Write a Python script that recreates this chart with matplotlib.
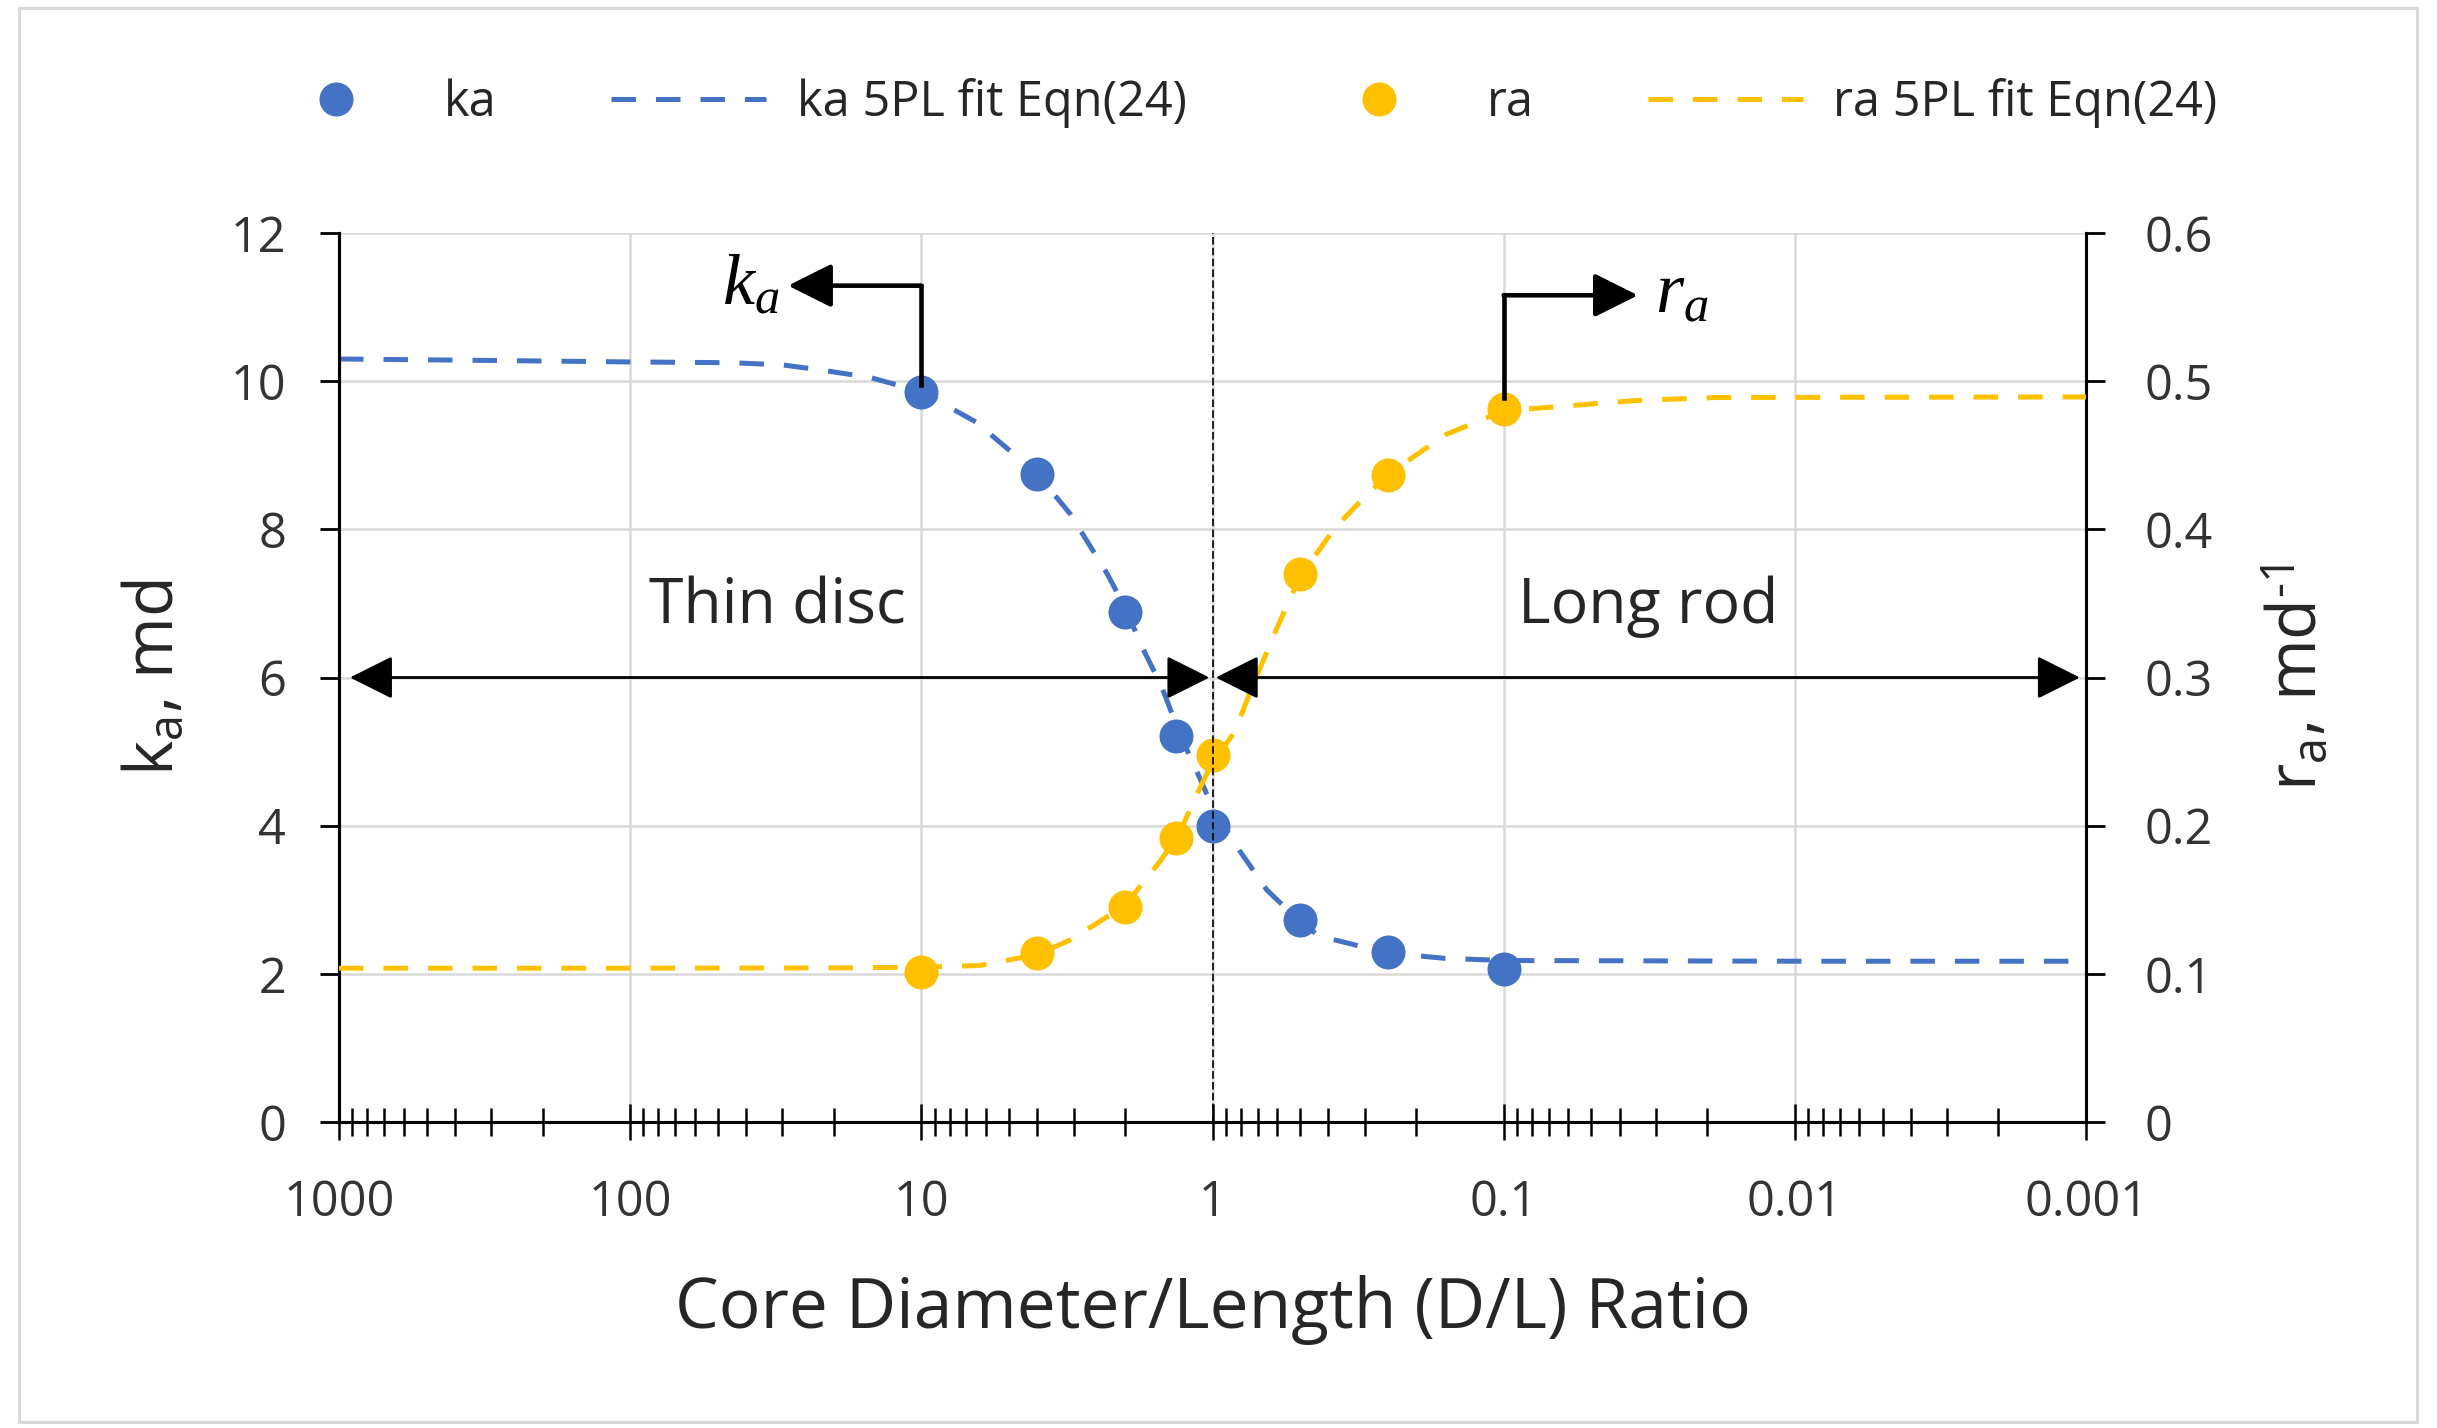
import matplotlib.pyplot as plt
from matplotlib.patches import Rectangle
from matplotlib.ticker import LogLocator, NullFormatter

plt.rcParams['font.family'] = ['Open Sans', 'DejaVu Sans']
plt.rcParams['mathtext.fontset'] = 'custom'
plt.rcParams['mathtext.rm'] = 'Open Sans'
plt.rcParams['mathtext.it'] = 'Liberation Serif:italic'

BLUE = '#4472C4'
GOLD = '#FFC000'
GRID = '#D9D9D9'

# measured apparent permeability (ka) and ra against core D/L ratio
dl_ratio = [10, 4, 2, 1.33, 1, 0.5, 0.25, 0.1]
ka = [9.86, 8.75, 6.88, 5.21, 4.0, 2.72, 2.30, 2.07]
ra = [0.101, 0.114, 0.145, 0.192, 0.248, 0.370, 0.437, 0.481]

# 5PL fit curves, Eqn(24)
ka_fit_x = [1000, 300, 100, 45, 30, 22, 15, 10, 6.5, 4, 3.07, 2.3, 2, 1.73, 1.5,
            1.3, 1.12, 1, 0.81, 0.65, 0.5, 0.43, 0.25, 0.16, 0.1, 0.01, 0.001]
ka_fit = [10.30, 10.28, 10.26, 10.25, 10.22, 10.15, 10.05, 9.86, 9.45, 8.75, 8.2,
          7.4, 6.95, 6.38, 5.89, 5.25, 4.69, 4.25, 3.67, 3.13, 2.70, 2.51, 2.28,
          2.21, 2.18, 2.17, 2.17]
ra_fit_x = [1000, 100, 20, 10, 6.3, 4, 3.07, 2, 1.5, 1.3, 1.12, 1, 0.84, 0.73,
            0.59, 0.5, 0.38, 0.31, 0.25, 0.158, 0.1, 0.035, 0.0185, 0.001]
ra_fit = [0.1038, 0.1038, 0.104, 0.1045, 0.1056, 0.113, 0.123, 0.146, 0.177,
          0.195, 0.223, 0.243, 0.263, 0.294, 0.337, 0.368, 0.401, 0.419, 0.437,
          0.464, 0.480, 0.487, 0.489, 0.4894]

x_ticks = [1000, 100, 10, 1, 0.1, 0.01, 0.001]
x_labels = ['1000', '100', '10', '1', '0.1', '0.01', '0.001']
ka_ticks = [0, 2, 4, 6, 8, 10, 12]
ra_ticks = [0, 0.1, 0.2, 0.3, 0.4, 0.5, 0.6]
ra_labels = ['0', '0.1', '0.2', '0.3', '0.4', '0.5', '0.6']

fig = plt.figure(figsize=(24.37, 14.28), dpi=100)
ax = fig.add_axes([0.1391, 0.2143, 0.7169, 0.6225])
ax2 = ax.twinx()

ax.set_xscale('log')
ax.set_xlim(1000, 0.001)
ax.set_ylim(0, 12)
ax2.set_ylim(0, 0.6)

dash = dict(lw=3.6, dashes=(4.9, 4.0), dash_capstyle='butt')
l_kafit, = ax.plot(ka_fit_x, ka_fit, color=BLUE, zorder=3, **dash)
l_ka, = ax.plot(dl_ratio, ka, 'o', color=BLUE, ms=24.5, mec='none', zorder=4)
l_rafit, = ax2.plot(ra_fit_x, ra_fit, color=GOLD, zorder=3, **dash)
l_ra, = ax2.plot(dl_ratio, ra, 'o', color=GOLD, ms=24.5, mec='none', zorder=4)

# grid and axes styling
ax.set_axisbelow(True)
ax.grid(True, which='major', color=GRID, lw=1.8)
ax.set_xticks(x_ticks, x_labels)
ax.xaxis.set_minor_locator(LogLocator(base=10, subs=range(2, 10), numticks=20))
ax.xaxis.set_minor_formatter(NullFormatter())
ax.set_yticks(ka_ticks)
ax2.set_yticks(ra_ticks, ra_labels)

for a in (ax, ax2):
    a.spines['top'].set_visible(False)
    for s in ('left', 'right', 'bottom'):
        a.spines[s].set_linewidth(2.2)

ax.tick_params(axis='x', which='major', direction='inout', length=26, width=1.8,
               labelsize=35, pad=28, labelcolor='#333333')
ax.tick_params(axis='x', which='minor', direction='inout', length=20, width=1.8)
ax.tick_params(axis='y', direction='out', length=14, width=2, labelsize=35,
               pad=24, labelcolor='#333333')
ax2.tick_params(axis='y', direction='out', length=14, width=2, labelsize=35,
                pad=28, labelcolor='#333333')

ax.set_xlabel('Core Diameter/Length (D/L) Ratio', fontsize=50, color='#262626')
ax.xaxis.label.set_va('center')
ax.xaxis.set_label_coords(0.5, -0.212)
ax.set_ylabel(r'$\mathrm{k_a}$, md', fontsize=48, color='#262626')
ax.yaxis.label.set_va('center')
ax.yaxis.set_label_coords(-0.105, 0.5)
ax2.set_ylabel(r'$\mathrm{r_a}$, md$^{\text{-1}}$', fontsize=48, color='#262626')
ax2.yaxis.label.set_va('center')
ax2.yaxis.set_label_coords(1.121, 0.5)

# annotations are drawn on the twin axes so they sit above every series
kd = ax.transData
head = '-|>,head_length=0.6,head_width=0.3'

ax2.plot([1, 1], [0, 12], transform=kd, color='k', lw=1.2,
         ls=(0, (4.5, 2)), zorder=6)
ax2.annotate('', xy=(917, 6), xycoords=kd, xytext=(1.025, 6), textcoords=kd,
             arrowprops=dict(arrowstyle='<|-|>,head_length=0.6,head_width=0.3',
                             mutation_scale=45, lw=2, color='k',
                             shrinkA=0, shrinkB=0), zorder=6)
ax2.annotate('', xy=(0.00105, 6), xycoords=kd, xytext=(0.975, 6), textcoords=kd,
             arrowprops=dict(arrowstyle='<|-|>,head_length=0.6,head_width=0.3',
                             mutation_scale=45, lw=2, color='k',
                             shrinkA=0, shrinkB=0), zorder=6)

ax.text(31.2, 6.95, 'Thin disc', fontsize=45, ha='center', va='center',
        color='#262626')
ax.text(0.032, 6.95, 'Long rod', fontsize=45, ha='center', va='center',
        color='#262626')

# bent arrow from the ka point at D/L=10 towards the left axis
ax2.plot([10, 10], [9.95, 11.29], transform=kd, color='k', lw=3.3,
         solid_capstyle='projecting', zorder=7)
ax2.annotate('', xy=(28.7, 11.29), xycoords=kd, xytext=(10, 11.29), textcoords=kd,
             arrowprops=dict(arrowstyle=head, mutation_scale=45, lw=3.3, color='k',
                             shrinkA=0, shrinkB=0), zorder=7)
ax2.text(30.6, 11.03, r'$k_a$', transform=kd, fontsize=52, ha='right',
         va='baseline', zorder=7)

# bent arrow from the ra point at D/L=0.1 towards the right axis
ax2.plot([0.1, 0.1], [0.489, 0.558], color='k', lw=3.3,
         solid_capstyle='projecting', zorder=7)
ax2.annotate('', xy=(0.0346, 0.558), xytext=(0.1, 0.558),
             arrowprops=dict(arrowstyle=head, mutation_scale=45, lw=3.3, color='k',
                             shrinkA=0, shrinkB=0), zorder=7)
ax2.text(0.0303, 0.546, r'$r_a$', fontsize=52, ha='left', va='baseline', zorder=7)

fig.legend([l_ka, l_kafit, l_ra, l_rafit],
           ['ka', 'ka 5PL fit Eqn(24)', 'ra', 'ra 5PL fit Eqn(24)'],
           loc='center', bbox_to_anchor=(0.508, 0.928), ncol=4, frameon=False,
           fontsize=35, handlelength=3.2, handletextpad=0.62, columnspacing=2.35,
           labelcolor='#262626')

fig.patches.append(Rectangle((19 / 2437, 6 / 1428), 2398 / 2437, 1414 / 1428,
                             transform=fig.transFigure, fill=False,
                             edgecolor=GRID, lw=2.2))

fig.savefig('out.png', dpi=100)
